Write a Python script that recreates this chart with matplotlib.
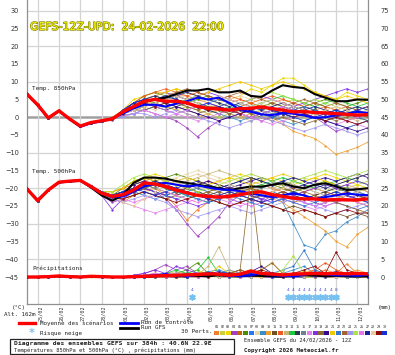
import matplotlib
matplotlib.use("Agg")
import matplotlib.pyplot as plt
import matplotlib.patheffects as pe
from matplotlib.transforms import ScaledTranslation
from matplotlib.patches import Rectangle

W, H = 395, 355

# time axis: days after 24/02 12Z, one value every 12h (384h)
steps = [0, 0.5, 1, 1.5, 2, 2.5, 3, 3.5, 4, 4.5, 5, 5.5, 6, 6.5, 7, 7.5, 8,
         8.5, 9, 9.5, 10, 10.5, 11, 11.5, 12, 12.5, 13, 13.5, 14, 14.5, 15, 15.5, 16]

date_pos = [0.5, 1.5, 2.5, 3.5, 4.5, 5.5, 6.5, 7.5, 8.5, 9.5, 10.5, 11.5, 12.5, 13.5, 14.5, 15.5]
date_labels = ["25/02", "26/02", "27/02", "28/02", "01/03", "02/03", "03/03", "04/03",
               "05/03", "06/03", "07/03", "08/03", "09/03", "10/03", "11/03", "12/03"]

# 850 hPa temperature (degC)
t850_mean = [6.5, 3.5, -0.2, 1.8, -0.5, -2.5, -1.5, -1.0, -0.5, 1.5, 3.0, 4.5, 5.0, 4.5, 4.5, 4.0, 3.0,
             2.5, 2.3, 2.0, 2.4, 2.5, 2.9, 2.4, 2.0, 1.5, 1.6, 1.3, 1.2, 1.0, 0.8, 0.6, 0.7]
t850_ctrl = [6.5, 3.3, -0.3, 1.7, -0.6, -2.7, -1.7, -1.2, -0.3, 1.0, 2.5, 3.5, 3.5, 3.0, 3.8, 4.5, 5.5,
             5.0, 5.5, 4.0, 2.0, 1.5, 0.8, 0.6, 1.2, 1.0, 0.5, -0.2, 0.0, 0.5, 1.0, 1.5, 1.2]
t850_gfs = [6.5, 3.4, -0.3, 1.8, -0.5, -2.6, -1.6, -1.0, -0.5, 1.5, 3.0, 4.5, 5.0, 5.5, 6.5, 7.5, 7.5,
            8.0, 7.0, 7.0, 7.5, 6.0, 5.7, 7.5, 9.0, 8.5, 8.2, 6.5, 5.5, 4.5, 4.5, 5.0, 4.9]

t850_members = [
    [6.5, 3.6, 0, 1.8, -0.4, -2.4, -1.3, -0.8, 0, 2, 4, 5, 6, 5, 6, 6, 5, 4, 3, 4, 5, 4, 3, 4, 5, 4, 3, 2, 3, 2, 1, 2, 3],
    [6.6, 3.4, -0.3, 1.9, -0.6, -2.6, -1.6, -1.1, -0.6, 1, 3, 4, 4, 3, 2, 3, 2, 1, 0, 1, 2, 1, 2, 3, 4, 5, 4, 3, 2, 1, 2, 1, 2],
    [6.4, 3.5, -0.1, 1.7, -0.5, -2.4, -1.4, -1.0, -0.2, 2, 5, 6, 7, 7, 8, 7, 6, 5, 4, 5, 6, 8, 7, 9, 11, 11, 9, 7, 6, 5, 7, 6, 5],
    [6.5, 3.5, -0.2, 1.8, -0.5, -2.5, -1.4, -1.0, -0.6, 0.5, 1, 2, 1, 0, -1, -3, -5.5, -3, -1, 0, 1, 0, -1, 0, 1, 2, 1, 0, -2, -4, -3, -2, -1],
    [6.5, 3.5, -0.2, 1.8, -0.5, -2.5, -1.5, -1.2, -0.8, 1, 2, 3, 4, 5, 6, 5, 4, 3, 3, 2, 3, 4, 3, 2, 1, 0, 1, 2, 1, 0, -1, 0, 1],
    [6.5, 3.4, -0.2, 1.7, -0.6, -2.6, -1.6, -1.1, -0.4, 2, 4, 6, 7, 6, 5, 4, 5, 6, 5, 4, 3, 2, 3, 4, 3, 2, 3, 4, 5, 4, 3, 4, 5],
    [6.6, 3.6, -0.1, 1.9, -0.4, -2.4, -1.5, -0.9, -0.3, 1.5, 3, 4, 5, 6, 5, 4, 3, 2, 3, 4, 3, 2, 1, 2, 3, 2, 1, 0, -1, 0, 1, 2, 1],
    [6.5, 3.5, -0.2, 1.8, -0.5, -2.5, -1.5, -1.0, -0.5, 1, 2, 3, 2, 3, 4, 3, 2, 3, 4, 5, 6, 5, 4, 3, 2, 3, 4, 3, 2, 3, 4, 5, 4],
    [6.4, 3.4, -0.3, 1.7, -0.6, -2.6, -1.7, -1.2, -0.7, 0.5, 1, 2, 3, 2, 1, 2, 3, 2, 1, 0, -1, 0, 1, 0, -1, -2, -1, 0, -1, -2, -3, -2, -1],
    [6.5, 3.6, 0, 1.9, -0.4, -2.4, -1.4, -0.9, -0.4, 1.5, 3, 4, 4, 3, 2, 1, 0, 1, 2, 1, 0, 1, 2, 0, -2, -4, -5, -6, -8, -10.5, -9.5, -8.5, -7],
    [6.5, 3.5, -0.2, 1.8, -0.5, -2.5, -1.5, -1.0, -0.5, 1, 2, 2, 3, 4, 3, 2, 1, 2, 3, 2, 1, 2, 3, 2, 1, 2, 3, 2, 1, 0, 1, 0, -1],
    [6.6, 3.5, -0.2, 1.8, -0.5, -2.5, -1.5, -1.0, -0.4, 2, 4, 6, 7, 8, 7, 6, 7, 6, 5, 6, 5, 4, 5, 6, 5, 4, 3, 4, 3, 2, 3, 2, 3],
    [6.5, 3.4, -0.3, 1.7, -0.6, -2.6, -1.6, -1.0, -0.5, 1, 3, 5, 6, 5, 4, 3, 2, 1, 2, 1, 0, -1, 0, 1, 2, 1, 0, 1, 2, 1, 0, -1, 0],
    [6.5, 3.5, -0.2, 1.8, -0.5, -2.5, -1.5, -1.0, -0.5, 2, 4, 5, 4, 5, 6, 5, 4, 3, 2, 3, 2, 3, 4, 5, 6, 5, 4, 3, 4, 5, 4, 3, 4],
    [6.5, 3.5, -0.2, 1.8, -0.5, -2.5, -1.5, -1.0, -0.5, 1.5, 3, 4, 3, 2, 3, 4, 3, 2, 1, 2, 1, 0, 1, 2, 1, 0, 1, 2, 1, 2, 1, 0, 1],
    [6.4, 3.4, -0.2, 1.8, -0.5, -2.5, -1.5, -1.1, -0.5, 1, 2, 3, 4, 3, 4, 5, 4, 3, 2, 1, 2, 3, 2, 1, 2, 3, 2, 1, 0, 1, 2, 1, 0],
    [6.5, 3.5, -0.2, 1.8, -0.5, -2.5, -1.5, -1.0, -0.5, 0.5, 1, 2, 1, 0, 1, 0, -1, 0, 1, 2, 1, 0, -1, -2, -1, 0, 1, 0, -1, -2, -1, -2, -3],
    [6.5, 3.5, -0.2, 1.8, -0.5, -2.5, -1.5, -1.0, -0.5, 2, 4, 5, 6, 7, 6, 5, 6, 7, 6, 5, 4, 5, 6, 5, 4, 3, 4, 5, 6, 7, 8, 7, 8],
    [6.5, 3.5, -0.2, 1.8, -0.5, -2.5, -1.5, -1.0, -0.5, 1, 2, 3, 4, 5, 4, 3, 2, 3, 2, 1, 2, 1, 0, -1, 0, -1, -2, -1, 0, -1, 0, 1, 0],
    [6.5, 3.5, -0.2, 1.8, -0.5, -2.5, -1.5, -1.0, -0.5, 1.5, 3, 4, 5, 4, 3, 2, 1, 0, -1, 0, 1, 2, 1, 0, 1, 2, 1, 0, -1, -2, -3, -4, -3],
    [6.5, 3.5, -0.2, 1.8, -0.5, -2.5, -1.5, -1.0, -0.5, 2, 3, 5, 6, 7, 8, 7, 6, 7, 8, 9, 10, 9, 8, 9, 10, 9, 8, 7, 6, 5, 6, 5, 4],
    [6.5, 3.5, -0.2, 1.8, -0.5, -2.5, -1.5, -1.0, -0.5, 1, 3, 4, 5, 4, 5, 4, 3, 4, 5, 4, 3, 2, 1, 0, 1, 2, 3, 2, 1, 2, 1, 0, -1],
    [6.5, 3.5, -0.2, 1.8, -0.5, -2.5, -1.5, -1.0, -0.5, 2, 3, 4, 5, 6, 7, 8, 7, 6, 5, 6, 7, 6, 5, 4, 3, 4, 5, 4, 3, 4, 3, 2, 1],
    [6.5, 3.5, -0.2, 1.8, -0.5, -2.5, -1.5, -1.0, -0.5, 0, 1, 1, 0, 1, 2, 1, 0, -1, -2, -3, -2, -1, 0, -1, -2, -3, -4, -3, -2, -3, -4, -5, -4],
    [6.5, 3.5, -0.2, 1.8, -0.5, -2.5, -1.5, -1.0, -0.5, 1.5, 3, 5, 6, 5, 4, 5, 6, 5, 4, 3, 4, 5, 6, 7, 6, 5, 4, 5, 4, 3, 2, 3, 2],
    [6.5, 3.5, -0.2, 1.8, -0.5, -2.5, -1.5, -1.0, -0.5, 1, 2, 4, 3, 2, 1, 2, 3, 4, 3, 2, 1, 0, 1, 2, 3, 2, 1, 0, 1, 0, -1, 0, 1],
    [6.5, 3.5, -0.2, 1.8, -0.5, -2.5, -1.5, -1.0, -0.5, 1.5, 4, 5, 6, 5, 6, 7, 6, 5, 4, 3, 4, 3, 2, 3, 4, 3, 2, 3, 2, 1, 2, 3, 2],
    [6.5, 3.5, -0.2, 1.8, -0.5, -2.5, -1.5, -1.0, -0.5, 1, 2, 3, 4, 5, 6, 5, 4, 5, 6, 5, 4, 3, 4, 5, 4, 3, 2, 1, 2, 3, 2, 1, 2],
    [6.5, 3.5, -0.2, 1.8, -0.5, -2.5, -1.5, -1.0, -0.5, 1, 3, 4, 3, 4, 5, 4, 3, 2, 3, 2, 1, 2, 3, 2, 1, 0, 1, 0, -1, 0, -1, -2, -1],
    [6.5, 3.5, -0.2, 1.8, -0.5, -2.5, -1.5, -1.0, -0.5, 2, 4, 5, 5, 6, 5, 4, 3, 4, 3, 2, 3, 2, 3, 2, 1, 0, -1, 0, 1, 2, 1, 2, 3],
]

# 500 hPa temperature (degC)
t500_mean = [-20.2, -23.5, -20.5, -18.3, -18.0, -17.8, -19.5, -21.4, -22.3, -21.8, -20.5, -18.5, -18.8, -19.5,
             -20.5, -21.3, -22.0, -22.3, -22.5, -22.3, -21.8, -21.3, -21.0, -21.8, -22.3, -22.8, -23.0, -23.0,
             -23.3, -23.2, -23.3, -23.3, -23.0]
t500_ctrl = [-20.2, -23.3, -20.6, -18.4, -18.1, -17.9, -19.6, -21.5, -22.5, -22.3, -21.0, -19.5, -18.8, -18.5,
             -19.0, -19.5, -19.2, -19.8, -20.3, -20.5, -20.8, -21.5, -22.0, -22.5, -22.0, -21.5, -22.0, -23.0,
             -22.5, -22.0, -21.5, -21.8, -22.0]
t500_gfs = [-20.2, -23.5, -20.5, -18.3, -18.0, -17.8, -19.8, -22.0, -23.5, -22.0, -18.5, -17.0, -17.0, -17.3,
            -18.0, -18.5, -19.0, -19.5, -20.0, -20.5, -20.0, -19.5, -19.6, -19.0, -18.6, -19.5, -20.0, -19.0,
            -18.6, -19.5, -20.5, -20.3, -20.0]

t500_members = [
    [-20.2, -23.4, -20.4, -18.2, -17.9, -17.8, -19.6, -21.5, -23, -24, -22, -21, -20, -22, -25, -29, -26, -24, -22, -21, -20, -21, -22, -21, -20, -21, -22, -23, -22, -21, -22, -23, -22],
    [-20.2, -23.5, -20.5, -18.3, -18.0, -17.8, -19.5, -21, -22, -21, -19, -17, -18, -19, -20, -21, -20, -19, -20, -21, -22, -21, -20, -19, -20, -21, -20, -19, -20, -21, -20, -19, -18],
    [-20.2, -23.5, -20.5, -18.3, -18.0, -17.8, -19.5, -21, -21, -20, -18, -17, -16, -17, -18, -17, -18, -19, -18, -17, -16, -17, -18, -17, -18, -19, -18, -17, -16, -17, -18, -19, -20],
    [-20.2, -23.5, -20.5, -18.3, -18.0, -17.8, -19.5, -22, -24, -23, -21, -20, -21, -23, -26, -30, -33.5, -31, -28, -24, -22, -23, -24, -22, -21, -22, -23, -24, -25, -24, -23, -22, -23],
    [-20.2, -23.5, -20.5, -18.3, -18.0, -17.8, -19.5, -21, -22, -22, -21, -20, -19, -18, -19, -20, -21, -22, -23, -22, -21, -20, -21, -22, -23, -24, -23, -22, -21, -22, -23, -24, -25],
    [-20.2, -23.5, -20.5, -18.3, -18.0, -17.8, -19.5, -21, -22, -20, -18, -17, -18, -17, -16, -17, -18, -19, -20, -19, -18, -17, -18, -19, -20, -21, -20, -19, -18, -19, -20, -21, -20],
    [-20.2, -23.5, -20.5, -18.3, -18.0, -17.8, -19.5, -21.5, -23, -22, -20, -19, -20, -21, -22, -21, -20, -21, -22, -23, -24, -23, -22, -21, -22, -23, -24, -25, -24, -23, -22, -21, -22],
    [-20.2, -23.5, -20.5, -18.3, -18.0, -17.8, -19.5, -21, -22, -23, -22, -20, -19, -18, -17, -16, -15, -16, -17, -18, -17, -16, -17, -18, -19, -18, -17, -18, -19, -20, -19, -20, -21],
    [-20.2, -23.5, -20.5, -18.3, -18.0, -17.8, -19.5, -21, -22, -22, -21, -20, -21, -22, -23, -22, -21, -22, -23, -22, -21, -22, -23, -22, -24, -30, -36, -37, -33, -32, -29.5, -28, -26],
    [-20.2, -23.5, -20.5, -18.3, -18.0, -17.8, -19.5, -21, -22, -21, -20, -19, -20, -21, -22, -23, -22, -21, -22, -23, -22, -21, -22, -23, -24, -26, -28, -30, -32, -35, -36.5, -33, -31],
    [-20.2, -23.5, -20.5, -18.3, -18.0, -17.8, -19.5, -21.5, -22.5, -23, -22, -21, -22, -23, -22, -21, -22, -23, -24, -25, -24, -23, -24, -25, -26, -25, -26, -27, -28, -27, -28, -27, -28],
    [-20.2, -23.5, -20.5, -18.3, -18.0, -17.8, -19.5, -21, -21, -20, -19, -18, -17, -18, -19, -20, -19, -18, -19, -20, -21, -20, -19, -20, -21, -22, -21, -20, -21, -22, -21, -20, -21],
    [-20.2, -23.5, -20.5, -18.3, -18.0, -17.8, -19.5, -21, -22, -21, -19, -18, -17, -18, -19, -18, -17, -16, -15, -16, -17, -18, -19, -20, -19, -18, -19, -20, -21, -20, -19, -20, -21],
    [-20.2, -23.5, -20.5, -18.3, -18.0, -17.8, -19.5, -21, -22, -22, -21, -20, -19, -20, -21, -22, -23, -24, -23, -22, -21, -20, -19, -18, -17, -18, -19, -20, -19, -18, -17, -18, -19],
    [-20.2, -23.5, -20.5, -18.3, -18.0, -17.8, -19.5, -21.5, -22.5, -22, -21, -20, -21, -22, -21, -20, -21, -22, -21, -20, -21, -22, -23, -22, -21, -22, -23, -22, -21, -20, -21, -22, -23],
    [-20.2, -23.5, -20.5, -18.3, -18.0, -17.8, -19.5, -21, -22, -21, -20, -19, -20, -19, -18, -19, -20, -21, -20, -19, -20, -21, -20, -19, -18, -19, -20, -21, -22, -21, -20, -21, -22],
    [-20.2, -23.5, -20.5, -18.3, -18.0, -17.8, -19.5, -21.5, -23, -24, -25, -26, -27, -26, -25, -24, -23, -22, -23, -24, -25, -24, -23, -22, -23, -24, -25, -26, -25, -24, -23, -24, -25],
    [-20.2, -23.5, -20.5, -18.3, -18.0, -17.8, -19.5, -22, -26, -23, -21, -20, -21, -22, -23, -24, -25, -24, -23, -22, -21, -22, -23, -24, -23, -22, -21, -20, -19, -20, -19, -18, -19],
    [-20.2, -23.5, -20.5, -18.3, -18.0, -17.8, -19.5, -21, -22, -21, -20, -19, -18, -19, -20, -21, -22, -21, -20, -21, -22, -23, -22, -21, -20, -21, -22, -23, -24, -23, -22, -23, -24],
    [-20.2, -23.5, -20.5, -18.3, -18.0, -17.8, -19.5, -21, -22, -21, -19, -18, -19, -20, -21, -20, -19, -18, -19, -20, -19, -18, -17, -18, -19, -20, -19, -18, -17, -18, -17, -16, -17],
    [-20.2, -23.5, -20.5, -18.3, -18.0, -17.8, -19.5, -21, -21, -20, -18, -17, -18, -19, -18, -17, -18, -19, -18, -17, -18, -19, -18, -17, -16, -17, -18, -17, -18, -19, -18, -17, -16],
    [-20.2, -23.5, -20.5, -18.3, -18.0, -17.8, -19.5, -21.5, -23, -22, -21, -22, -23, -22, -21, -22, -23, -24, -23, -22, -23, -24, -25, -24, -23, -24, -25, -24, -23, -24, -25, -26, -25],
    [-20.2, -23.5, -20.5, -18.3, -18.0, -17.8, -19.5, -21, -22, -22, -21, -20, -19, -20, -21, -20, -19, -20, -21, -22, -21, -20, -21, -22, -21, -20, -21, -22, -23, -24, -25, -26, -27],
    [-20.2, -23.5, -20.5, -18.3, -18.0, -17.8, -19.5, -21.5, -23, -24, -23, -22, -23, -24, -26, -27, -28, -27, -26, -25, -26, -27, -26, -25, -24, -23, -24, -25, -26, -27, -26, -25, -24],
    [-20.2, -23.5, -20.5, -18.3, -18.0, -17.8, -19.5, -21, -21, -19, -17, -16, -17, -18, -19, -20, -21, -20, -19, -18, -17, -16, -17, -18, -19, -18, -17, -16, -15, -16, -17, -16, -15],
    [-20.2, -23.5, -20.5, -18.3, -18.0, -17.8, -19.5, -21, -22, -23, -24, -23, -22, -21, -22, -23, -24, -23, -22, -23, -24, -25, -24, -23, -22, -23, -24, -25, -24, -23, -22, -23, -24],
    [-20.2, -23.5, -20.5, -18.3, -18.0, -17.8, -19.5, -21, -22, -21, -20, -19, -18, -19, -20, -19, -18, -19, -20, -19, -18, -17, -18, -19, -18, -17, -18, -19, -20, -19, -18, -17, -16],
    [-20.2, -23.5, -20.5, -18.3, -18.0, -17.8, -19.5, -21, -22, -24, -25, -23, -21, -19, -18, -17, -16, -17, -18, -19, -20, -21, -22, -21, -20, -19, -20, -21, -22, -23, -22, -21, -20],
    [-20.2, -23.5, -20.5, -18.3, -18.0, -17.8, -19.5, -21.5, -22.5, -23, -22, -21, -22, -23, -24, -23, -22, -23, -24, -25, -24, -23, -24, -25, -26, -27, -26, -27, -28, -27, -26, -27, -27],
    [-20.2, -23.5, -20.5, -18.3, -18.0, -17.8, -19.5, -21, -22, -21, -20, -21, -22, -21, -20, -21, -22, -23, -22, -21, -22, -23, -24, -23, -22, -21, -22, -23, -22, -21, -22, -23, -24],
]

# precipitation (mm, right axis)
rr_mean = [0, 0, 0.1, 0.3, 0.1, 0, 0.2, 0.1, 0, 0, 0.1, 0.2, 0.3, 0.4, 0.5, 0.6, 0.7,
           0.9, 0.8, 0.5, 0.8, 1.7, 1.0, 0.8, 0.6, 0.8, 0.9, 1.0, 0.9, 1.0, 0.9, 1.0, 0.9]
rr_ctrl = [0, 0, 0.1, 0.3, 0.1, 0, 0.2, 0.1, 0, 0, 0, 0.3, 0.5, 0.8, 0.4, 0.2, 0.6,
           1.0, 0.8, 0.3, 0.2, 0.5, 1.0, 0.5, 0.3, 0.2, 0.6, 1.2, 0.8, 0.4, 0.5, 0.3, 0.6]
rr_gfs = [0, 0, 0.1, 0.2, 0.1, 0, 0.2, 0.1, 0, 0, 0, 0, 0.2, 0.3, 0.2, 0.4, 0.3,
          0.2, 0.5, 0.3, 0.2, 0.4, 0.3, 0.2, 0.1, 0.3, 0.5, 0.4, 0.2, 0.3, 0.2, 0.1, 0.2]

rr_members = [
    [0, 0, 0, 0.3, 0, 0, 0.3, 0, 0, 0, 0, 0.5, 0.2, 0, 0.8, 0.3, 0, 1, 0.5, 0, 0.3, 1, 0, 0.5, 1, 0, 0.5, 1, 2, 1, 3.7, 1, 0.5],
    [0, 0, 0.2, 0.2, 0, 0, 0.2, 0, 0, 0, 0, 0, 0.5, 1, 0, 0, 0.5, 1, 0, 0, 1, 0.5, 2, 4, 1, 0, 0.5, 0, 1, 0.5, 0, 1, 0.5],
    [0, 0, 0, 0.2, 0, 0, 0, 0.2, 0, 0, 0, 0.3, 0, 0, 0.5, 1, 2, 0.5, 0, 0, 0, 0.5, 0, 0, 0.5, 1, 0, 0, 0.5, 0, 0, 0.3, 0],
    [0, 0, 0, 0.3, 0.2, 0, 0.2, 0.2, 0, 0, 0.5, 1, 2, 3.5, 2, 3, 1, 0.5, 0, 0, 1, 0.5, 0, 0, 0.5, 1, 0.5, 0, 0, 1, 0.5, 0, 0],
    [0, 0, 0.1, 0.2, 0, 0, 0.2, 0, 0, 0, 0, 0, 0.5, 0, 0, 0.5, 1, 1.5, 0.5, 0, 0.5, 0, 0.5, 1, 0, 0, 1, 0.5, 0, 0, 0.5, 1, 0.5],
    [0, 0, 0, 0.3, 0, 0, 0.3, 0, 0, 0, 0, 0.5, 0, 0.5, 1, 2, 4, 1, 0.5, 0, 0, 1, 0.5, 0, 0, 0.5, 0, 0, 0.5, 1, 0, 0.5, 0],
    [0, 0, 0.1, 0.2, 0.1, 0, 0.2, 0.1, 0, 0, 0, 0, 0.3, 0.5, 0.3, 0, 0.5, 1.5, 2, 1, 0.5, 0, 0.5, 1, 0.5, 0, 0.5, 1.5, 1, 0.5, 0, 0, 0.5],
    [0, 0, 0, 0.2, 0, 0, 0.2, 0, 0, 0, 0, 0, 0, 0.5, 0, 0, 0.5, 0, 0, 1, 0.5, 0, 0, 0.5, 0, 0, 0.5, 0, 0, 0.5, 1, 0, 0],
    [0, 0, 0.1, 0.3, 0.1, 0, 0.3, 0.1, 0, 0, 0, 0.5, 0, 0, 0.5, 1, 0.5, 0, 1, 2, 1, 0.5, 0, 0.5, 1, 2, 3, 1, 0.5, 0, 0.5, 1, 0.5],
    [0, 0, 0, 0.2, 0, 0, 0.2, 0, 0, 0, 0, 0, 0.5, 1, 0.5, 0, 0, 0.5, 1, 0.5, 0, 1, 0.5, 0, 0.5, 1, 1.5, 2, 1, 0.5, 1, 2, 1],
    [0, 0, 0.2, 0.4, 0.1, 0, 0.3, 0.2, 0, 0, 0, 0, 0, 0.5, 0, 0.5, 1, 0, 0.5, 1, 2, 1, 0.5, 0, 0.5, 0, 1, 0.5, 0, 0, 0.5, 0, 0],
    [0, 0, 0, 0.2, 0, 0, 0.2, 0, 0, 0, 0.3, 0.5, 1, 0.5, 0, 0, 0.5, 1, 0, 0.5, 0, 0.5, 1, 0.5, 0, 0.5, 1, 2, 4, 2, 1, 0.5, 1],
    [0, 0, 0.1, 0.2, 0, 0, 0.2, 0, 0, 0, 0, 0, 0.5, 1, 1.5, 1, 0.5, 3, 8.5, 2, 0.5, 0, 0.5, 1, 0, 0, 0.5, 0, 0.5, 0, 0, 0.5, 0],
    [0, 0, 0, 0.3, 0, 0, 0.3, 0, 0, 0, 0, 0.3, 0.5, 1, 2, 1, 2, 5.5, 1, 0.5, 0, 0.5, 0, 0.5, 1, 0.5, 0, 1, 0.5, 0, 0.5, 0, 0.5],
    [0, 0, 0.1, 0.2, 0.1, 0, 0.2, 0.1, 0, 0, 0, 0, 0, 0.5, 0, 0, 0.5, 1, 0.5, 0, 0.5, 1, 0.5, 0, 0, 0.5, 1, 0.5, 0, 0.5, 0, 0, 0.5],
    [0, 0, 0, 0.2, 0, 0, 0.2, 0, 0, 0, 0, 0, 0.3, 0, 0.5, 0, 0, 0.5, 1, 0.5, 0, 0, 0.5, 1, 0.5, 0, 0, 0.5, 1, 0.5, 0, 0.5, 0],
    [0, 0, 0.1, 0.3, 0, 0, 0.2, 0, 0, 0, 0, 0.5, 1, 0.5, 1, 0.5, 0, 0.5, 1, 0.5, 0, 0.5, 1, 0.5, 0, 0.5, 1, 0.5, 0, 0.5, 1, 0.5, 0],
    [0, 0, 0, 0.2, 0.1, 0, 0.2, 0.1, 0, 0, 0.5, 1, 2, 1, 3, 2, 1, 0.5, 0, 0.5, 1, 0.5, 0, 0, 0.5, 1, 0.5, 0, 0.5, 1, 0.5, 0, 0.5],
    [0, 0, 0.2, 0.4, 0.1, 0, 0.3, 0.1, 0, 0, 0, 0, 0.5, 0, 0.5, 1, 0.5, 0, 0.5, 1, 2, 28, 1, 0.5, 0, 0.5, 0, 0.5, 1, 0.5, 0, 0.5, 0],
    [0, 0, 0, 0.2, 0, 0, 0.2, 0, 0, 0, 0, 0, 0.3, 0.5, 0, 0.5, 1, 0.5, 0, 0.5, 1, 1.5, 3, 1, 0.5, 0, 0.5, 1, 0.5, 0, 0.5, 1, 0.5],
    [0, 0, 0.1, 0.2, 0, 0, 0.2, 0, 0, 0, 0, 0, 0, 0.5, 1, 0.5, 0, 0.5, 3, 1, 0.5, 0, 0, 0.5, 1, 0.5, 0, 0.5, 0, 0, 0.5, 0, 0],
    [0, 0, 0, 0.3, 0, 0, 0.3, 0, 0, 0, 0, 0.3, 0.5, 0, 0.5, 1, 0.5, 1, 0.5, 0, 0.5, 1, 0.5, 1, 2, 3, 7.5, 2, 1, 0.5, 1, 0.5, 1],
    [0, 0, 0.1, 0.2, 0.1, 0, 0.2, 0.1, 0, 0, 0, 0, 0.5, 0, 0, 0.5, 0, 1, 0.5, 1, 2, 1, 2, 4, 1, 0.5, 0, 0.5, 1, 0.5, 0, 0.5, 0],
    [0, 0, 0, 0.2, 0, 0, 0.2, 0, 0, 0, 0, 0, 0, 0.5, 1, 0.5, 0, 0.5, 0, 0, 0.5, 1, 0.5, 0, 0.5, 0, 0, 0.5, 1, 0.5, 0, 0, 0.5],
    [0, 0, 0.1, 0.3, 0, 0, 0.3, 0, 0, 0, 0, 0.5, 0, 0.5, 0, 0.5, 1, 0.5, 0, 0.5, 1, 2, 1, 0.5, 2, 6, 1, 0.5, 0, 0.5, 1, 0.5, 0],
    [0, 0, 0, 0.2, 0, 0, 0.2, 0, 0, 0, 0, 0, 0.5, 0, 0, 0.5, 0, 0, 0.5, 1, 0.5, 0, 0.5, 0, 0, 0.5, 1, 0.5, 0, 0, 0.5, 1, 0.5],
    [0, 0, 0.1, 0.2, 0, 0, 0.2, 0, 0, 0, 0, 0, 0.3, 0.5, 0.3, 0, 0.5, 1, 1.5, 1, 0.5, 0, 0.5, 1, 0.5, 0, 0, 0.5, 1, 1.5, 1, 0.5, 0],
    [0, 0, 0, 0.2, 0, 0, 0.2, 0, 0, 0, 0, 0, 0, 0.5, 0, 0.5, 1, 0.5, 0, 0, 0.5, 0, 0, 0.5, 1, 0.5, 0, 0.5, 0, 0, 0.5, 0, 0.5],
    [0, 0, 0.1, 0.3, 0.1, 0, 0.2, 0.1, 0, 0, 0, 0, 0.5, 0.3, 0, 0.5, 0.3, 0, 0.5, 1, 0.5, 1, 2, 1, 0.5, 1, 2, 3, 1, 7, 2, 1, 0.5],
    [0, 0, 0, 0.2, 0, 0, 0.2, 0, 0, 0, 0, 0, 0, 0.5, 0.3, 0, 0.5, 1, 0.5, 0, 0.5, 1, 0.5, 0, 0, 0.5, 1, 0.5, 0, 0.5, 1, 0.5, 0],
]

member_colors = ["#f08030", "#c8d040", "#f0d800", "#a040c0", "#c86400", "#4c8c00",
                 "#2878f0", "#e8d8a8", "#3c8cc8", "#f0a030", "#6e5028", "#f05a1e",
                 "#c8b478", "#1ec83c", "#2c3c50", "#708090", "#e682f0", "#8232e6",
                 "#8c6a2e", "#320a8c", "#f0c800", "#3278d2", "#a06432", "#a096f0",
                 "#aae646", "#e678e6", "#1e1ea0", "#e6cca0", "#8c0a0a", "#1432d2"]

# snow risk (days after start) and the small labels drawn above the flakes
snow_t = [7.75, 12.25, 12.5, 12.75, 13.0, 13.25, 13.5, 13.75, 14.0, 14.25, 14.5]
snow_txt = ["4", "4", "4", "4", "4", "4", "4", "4", "4", "4", "8"]

fig = plt.figure(figsize=(W / 100, H / 100), dpi=100)
fig.patch.set_facecolor("white")

ax = fig.add_axes([27 / W, (H - 304) / H, (368 - 27) / W, 304 / H])
ax.set_xlim(0, 16)
ax.set_ylim(-52.6, 33.0)

ax.set_xticks(date_pos, date_labels, rotation=90, fontsize=3.7, family="DejaVu Sans Mono")
ax.grid(axis="x", color="#d4d4d4", lw=0.9)
ax.tick_params(axis="x", length=0, pad=1, colors="#333333")
shift = ScaledTranslation(2.5 / 100, 0, fig.dpi_scale_trans)
for lbl in ax.get_xticklabels():
    lbl.set_transform(lbl.get_transform() + shift)

ax.set_yticks(range(-45, 31, 5))
ax.tick_params(axis="y", length=0, pad=6, labelsize=4.8, colors="#333333")
for lvl in [30, 20, 10, -10, -20, -30, -40]:
    ax.axhline(lvl, color="#d4d4d4", lw=0.9, zorder=0)
ax.axhline(0, color="#a0a0a0", lw=1.8, zorder=0)
for s in ["left", "right", "bottom"]:
    ax.spines[s].set_color("#909090")
    ax.spines[s].set_linewidth(0.9)
ax.spines["top"].set_visible(False)

for vals, c in zip(t850_members, member_colors):
    ax.plot(steps, vals, color=c, lw=0.55, marker=".", ms=1.4, zorder=2)
for vals, c in zip(t500_members, member_colors):
    ax.plot(steps, vals, color=c, lw=0.55, marker=".", ms=1.4, zorder=2)

ax.plot(steps, t850_gfs, color="black", lw=1.5, zorder=3)
ax.plot(steps, t500_gfs, color="black", lw=1.5, zorder=3)
ax.plot(steps, t850_ctrl, color="#0000ff", lw=1.5, zorder=4)
ax.plot(steps, t500_ctrl, color="#0000ff", lw=1.5, zorder=4)
ax.plot(steps, t850_mean, color="#ff0000", lw=2.4, zorder=5)
ax.plot(steps, t500_mean, color="#ff0000", lw=2.4, zorder=5)

ax2 = ax.twinx()
ax2.set_ylim(-52.6 + 45, 33.0 + 45)
ax2.set_yticks(range(0, 76, 5))
ax2.tick_params(axis="y", length=0, pad=9, labelsize=4.8, colors="#333333")
for s in ax2.spines.values():
    s.set_visible(False)

for vals, c in zip(rr_members, member_colors):
    ax2.plot(steps, vals, color=c, lw=0.55, marker=".", ms=1.4, zorder=2)
ax2.plot(steps, rr_gfs, color="black", lw=1.5, zorder=3)
ax2.plot(steps, rr_ctrl, color="#0000ff", lw=1.5, zorder=4)
ax2.plot(steps, rr_mean, color="#ff0000", lw=2.4, zorder=5)

# snow risk flakes
ax2.scatter(snow_t, [-5.5] * len(snow_t), marker=(6, 2, 0), s=14, color="#78c0f0", lw=1.2, zorder=6)
for t, s in zip(snow_t, snow_txt):
    ax2.text(t, -3.6, s, fontsize=3.2, color="#5050e0", ha="center", va="center", zorder=6)

# panel labels
lab = dict(fontsize=4.3, family="DejaVu Sans Mono", color="#222222", va="center")
ax.text(0.23, 8.2, "Temp. 850hPa", **lab)
ax.text(0.23, -15.4, "Temp. 500hPa", **lab)
ax.text(0.23, -42.6, "Précipitations", **lab)

# title
fig.text(30 / W, 1 - 27 / H, "GEFS-12Z-UPD:  24-02-2026  22:00", fontsize=7.9,
         color="#f8f400", va="center", ha="left", family=["Liberation Sans Narrow", "DejaVu Sans"],
         path_effects=[pe.withStroke(linewidth=0.9, foreground="#808000")])


def ftxt(px, py, s, **kw):
    opts = dict(fontsize=4.2, family="DejaVu Sans Mono", color="#222222", va="center", ha="left")
    opts.update(kw)
    fig.text(px / W, 1 - py / H, s, **opts)


ftxt(12, 307, "(°C)")
ftxt(4, 315, "Alt. 162m")
ftxt(378, 308, "(mm)")

fig.add_artist(plt.Line2D([19 / W, 35 / W], [1 - 323 / H] * 2, color="#ff0000", lw=2.4))
ftxt(40, 323, "Moyenne des scénarios")
fig.add_artist(plt.Line2D([120 / W, 138 / W], [1 - 322.5 / H] * 2, color="#0000ff", lw=2.0))
ftxt(141, 323, "Run de contrôle")
fig.add_artist(plt.Line2D([120 / W, 138 / W], [1 - 327.5 / H] * 2, color="black", lw=2.0))
ftxt(141, 327.8, "Run GFS")
fig.text(32 / W, 1 - 333 / H, "*", fontsize=8, color="#78c0f0", ha="center", va="center",
         fontweight="bold")
ftxt(40, 334, "Risque neige")
ftxt(181, 331.5, "30 Perts.")

for k, c in enumerate(member_colors):
    x0 = 214 + k * 5.8
    fig.add_artist(Rectangle((x0 / W, 1 - 334.5 / H), 5.2 / W, 4 / H, color=c, lw=0))
    fig.text((x0 + 2.6) / W, 1 - 326.8 / H, "%02d" % (k + 1), fontsize=2.4,
             family="DejaVu Sans Mono", ha="center", va="center", color="#222222")

fig.add_artist(Rectangle((10 / W, 1 - 354 / H), 224 / W, 15 / H, fill=False,
                         ec="#222222", lw=0.9))
ftxt(14, 344, "Diagramme des ensembles GEFS sur 384h : 40.6N 22.9E",
     fontsize=4.6, fontweight="bold")
ftxt(14, 350.5, "Températures 850hPa et 500hPa (°C) , précipitations (mm)", fontsize=3.9)
ftxt(244, 340.5, "Ensemble GEFS du 24/02/2026 - 12Z", fontsize=4.0)
ftxt(244, 350.5, "Copyright 2026 Meteociel.fr", fontsize=4.2, fontweight="bold")

fig.savefig("out.png", dpi=100)
